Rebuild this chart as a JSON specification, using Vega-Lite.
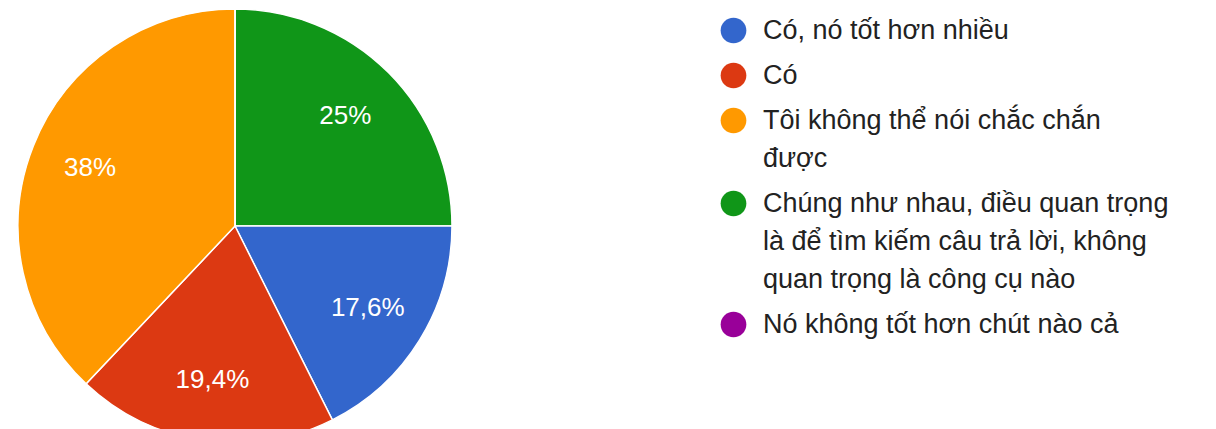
{
  "$schema": "https://vega.github.io/schema/vega-lite/v6.json",
  "width": 470,
  "height": 452,
  "padding": 0,
  "background": "white",
  "data": {
    "values": [
      {"answer": "Chúng như nhau, điều quan trọng|là để tìm kiếm câu trả lời, không|quan trọng là công cụ nào", "count": 27, "rank": 1, "label": "25%"},
      {"answer": "Có, nó tốt hơn nhiều", "count": 19, "rank": 2, "label": "17,6%"},
      {"answer": "Có", "count": 21, "rank": 3, "label": "19,4%"},
      {"answer": "Tôi không thể nói chắc chắn|được", "count": 41, "rank": 4, "label": "38%"},
      {"answer": "Nó không tốt hơn chút nào cả", "count": 0, "rank": 5, "label": "0%"}
    ]
  },
  "encoding": {
    "theta": {"field": "count", "type": "quantitative", "stack": true},
    "order": {"field": "rank", "type": "quantitative"}
  },
  "layer": [
    {
      "mark": {"type": "arc", "radius": 217, "stroke": "white", "strokeWidth": 1.5},
      "encoding": {
        "color": {
          "field": "answer",
          "type": "nominal",
          "scale": {
            "domain": [
              "Có, nó tốt hơn nhiều",
              "Có",
              "Tôi không thể nói chắc chắn|được",
              "Chúng như nhau, điều quan trọng|là để tìm kiếm câu trả lời, không|quan trọng là công cụ nào",
              "Nó không tốt hơn chút nào cả"
            ],
            "range": ["#3366cc", "#dc3912", "#ff9900", "#109618", "#990099"]
          },
          "legend": {
            "orient": "none",
            "legendX": 720,
            "legendY": 17,
            "title": null,
            "padding": 0,
            "symbolType": "circle",
            "symbolSize": 660,
            "symbolStrokeWidth": 0,
            "symbolOpacity": 1,
            "labelFont": "Liberation Sans",
            "labelFontSize": 27,
            "labelColor": "#222222",
            "labelLimit": 0,
            "labelOffset": 16,
            "rowPadding": 17,
            "labelExpr": "split(datum.label, '|')",
            "encode": {"labels": {"update": {"lineHeight": {"value": 38}}}}
          }
        }
      }
    },
    {
      "transform": [{"filter": "datum.count > 0"}],
      "mark": {"type": "text", "radius": 156, "fill": "white", "font": "Liberation Sans", "fontSize": 26, "align": "center", "baseline": "middle"},
      "encoding": {
        "text": {"field": "label", "type": "nominal"}
      }
    }
  ],
  "config": {"view": {"stroke": null}, "style": {"guide-label": {"lineHeight": 38}}}
}
